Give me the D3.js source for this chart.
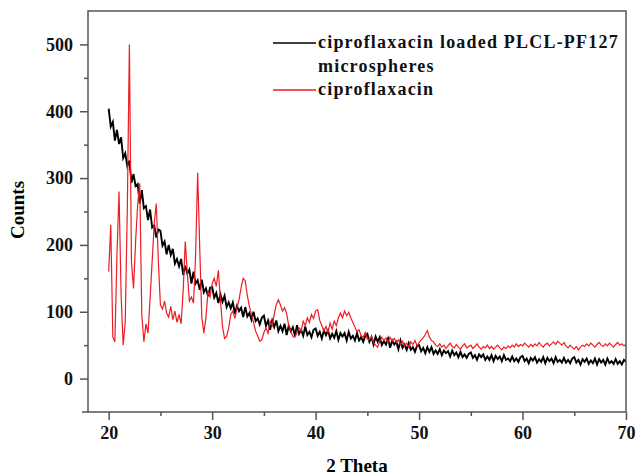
<!DOCTYPE html>
<html><head><meta charset="utf-8">
<script src="https://cdn.jsdelivr.net/npm/d3@7/dist/d3.min.js"></script>
<style>body{margin:0;background:#fff}svg{display:block}</style>
</head><body><svg id="c" width="636" height="475"></svg>
<script>
// 2-theta grid: 20.0 .. 70.0, step 0.2
const thetaStart = 20, thetaStep = 0.2;
const loadedCounts = [
404,377,384,356,372, 351,361,330,337,318, 326,293,306,288,291, 262,282,255,258,237,
253,226,229,211,223, 221,199,205,186,200, 185,194,172,179,168, 179,155,169,157,163,
142,160,142,147,133, 148,129,135,123,136, 137,121,128,113,126, 115,124,107,114,105,
114,97,109,101,106, 92,107,93,98,88, 100,86,90,81,91, 94,79,87,73,87,
77,87,71,79,71, 82,65,79,71,77, 64,80,67,73,64, 78,65,70,62,73,
75,64,70,60,72, 65,72,60,67,61, 71,58,68,63,68, 57,70,60,64,57,
68,57,62,55,64, 67,55,62,51,63, 55,62,50,56,51, 60,46,57,51,55,
44,57,46,51,43, 53,43,47,40,49, 50,41,46,38,47, 40,47,37,42,37,
44,35,42,38,41, 33,42,35,39,32, 40,32,36,31,37, 39,31,35,28,36,
32,36,28,33,28, 35,26,34,29,33, 26,35,28,30,26, 33,26,30,25,32,
34,26,30,23,31, 27,32,24,29,25, 32,23,31,26,30, 23,32,25,28,24,
31,24,28,23,30, 32,24,28,21,29, 25,30,22,27,23, 30,21,29,24,28,
21,30,23,26,22, 29,22,26,21,28, 25];
const ciproCounts = [
160,230,62,55,185, 280,125,50,85,255, 500,175,135,205,260, 292,95,55,82,68,
120,175,232,262,175, 110,104,116,98,92, 108,88,101,84,96, 82,132,205,158,116,
122,113,185,308,195, 92,68,92,130,122, 142,150,138,162,118, 78,60,63,76,96,
101,90,106,118,136, 150,146,124,108,96, 84,71,64,56,58, 69,76,68,86,79,
96,111,118,110,101, 106,97,79,71,63, 62,69,76,71,86, 79,91,84,96,90,
101,103,87,79,71, 78,69,83,74,86, 79,91,98,91,101, 94,99,91,84,77,
70,73,64,62,69, 59,58,63,54,50, 47,56,62,57,61, 54,62,56,60,54,
58,51,56,49,53, 47,55,51,57,49, 54,58,61,66,72, 62,57,55,50,48,
52,47,50,45,49, 53,48,46,51,47, 44,49,52,46,48, 50,45,48,52,47,
44,48,46,50,45, 48,44,47,50,46, 43,47,45,49,46, 50,47,52,48,51,
49,53,50,47,51, 48,52,49,54,50, 47,51,53,49,52, 55,51,56,53,50,
54,49,46,50,47, 44,48,43,47,50, 48,52,49,53,50, 47,51,54,50,48,
52,49,53,50,47, 51,54,50,52,49, 51];
const xTicks = [20, 30, 40, 50, 60, 70];
const xMinorTicks = [25, 35, 45, 55, 65];
const yTicks = [0, 100, 200, 300, 400, 500];
const yMinorTicks = [50, 150, 250, 350, 450];
const seriesLabels = [["ciproflaxacin loaded PLCL-PF127", "microspheres"], ["ciproflaxacin"]];
const seriesColors = ["#000000", "#ee1c24"];
const xTitle = "2 Theta", yTitle = "Counts";

const theta = loadedCounts.map((_, i) => +(thetaStart + i * thetaStep).toFixed(1));

const svg = d3.select("#c");
const L = 88, R = 626, T = 11, B = 412;
const x = d3.scaleLinear().domain([18, 70]).range([L, R]);
const y = d3.scaleLinear().domain([-50, 550]).range([B, T]);
const font = "'Liberation Serif','Times New Roman',serif";
const axisColor = "#555";

svg.append("defs").append("clipPath").attr("id", "clip")
  .append("rect").attr("x", L).attr("y", T).attr("width", R - L).attr("height", B - T);

const line = d3.line().x((d, i) => x(theta[i])).y(d => y(d));
const plot = svg.append("g").attr("clip-path", "url(#clip)");
plot.append("path").datum(loadedCounts).attr("d", line)
  .attr("fill", "none").attr("stroke", seriesColors[0]).attr("stroke-width", 1.9).attr("stroke-linejoin", "miter");
plot.append("path").datum(ciproCounts).attr("d", line)
  .attr("fill", "none").attr("stroke", seriesColors[1]).attr("stroke-width", 1.2);

function styleAxis(g) {
  g.select(".domain").remove();
  g.selectAll(".tick line").attr("stroke", axisColor).attr("stroke-width", 1.5);
  g.selectAll(".tick text").attr("fill", "#111").style("font-family", font)
    .style("font-weight", "bold").style("font-size", "18px");
}
// major axes
svg.append("g").attr("transform", `translate(0,${B})`)
  .call(d3.axisBottom(x).tickValues(xTicks).tickSize(8).tickPadding(6).tickFormat(d3.format("d")))
  .call(styleAxis);
svg.append("g").attr("transform", `translate(${L},0)`)
  .call(d3.axisLeft(y).tickValues(yTicks).tickSize(8).tickPadding(7).tickFormat(d3.format("d")))
  .call(styleAxis);
// minor ticks
svg.append("g").attr("transform", `translate(0,${B})`)
  .call(d3.axisBottom(x).tickValues(xMinorTicks).tickSize(4).tickFormat(""))
  .call(styleAxis);
svg.append("g").attr("transform", `translate(${L},0)`)
  .call(d3.axisLeft(y).tickValues(yMinorTicks).tickSize(4).tickFormat(""))
  .call(styleAxis);
// frame
svg.append("rect").attr("x", L).attr("y", T).attr("width", R - L).attr("height", B - T)
  .attr("fill", "none").attr("stroke", axisColor).attr("stroke-width", 1.5);
svg.append("line").attr("x1", L - 6).attr("x2", L).attr("y1", B).attr("y2", B)
  .attr("stroke", axisColor).attr("stroke-width", 1.5);

// titles
svg.append("text").attr("x", (L + R) / 2).attr("y", 472).attr("text-anchor", "middle")
  .style("font-family", font).style("font-weight", "bold").style("font-size", "19px").text(xTitle);
svg.append("text").attr("transform", "translate(24,210) rotate(-90)").attr("text-anchor", "middle")
  .style("font-family", font).style("font-weight", "bold").style("font-size", "19px").text(yTitle);

// legend
const leg = svg.append("g");
const legRows = [{y: 43, c: 0, t: seriesLabels[0][0], line: true},
                 {y: 67, c: 0, t: seriesLabels[0][1], line: false},
                 {y: 90, c: 1, t: seriesLabels[1][0], line: true}];
legRows.forEach(r => {
  if (r.line) leg.append("line").attr("x1", 273).attr("x2", 316).attr("y1", r.y).attr("y2", r.y)
    .attr("stroke", seriesColors[r.c]).attr("stroke-width", 1.3);
  leg.append("text").attr("x", 318).attr("y", r.y + 5)
    .style("font-family", font).style("font-weight", "bold").style("font-size", "18px")
    .style("letter-spacing", "1.2px").attr("fill", "#111").text(r.t);
});
</script></body></html>
